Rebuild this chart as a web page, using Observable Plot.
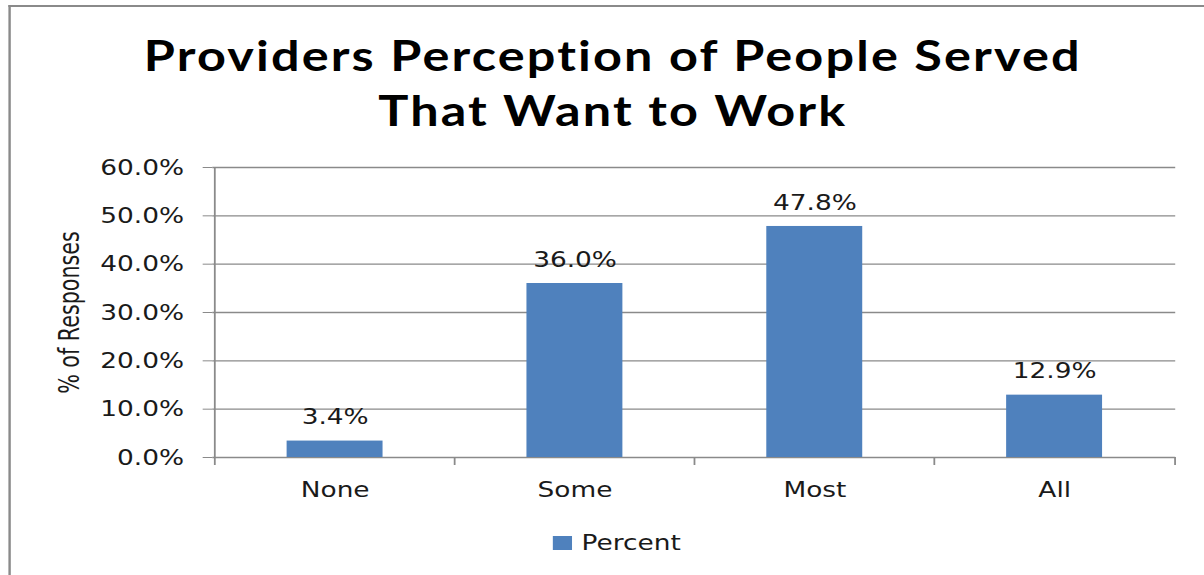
<!DOCTYPE html>
<html>
<head>
<meta charset="utf-8">
<script src="https://cdn.jsdelivr.net/npm/d3@7"></script>
<script src="https://cdn.jsdelivr.net/npm/@observablehq/plot@0.6"></script>
<style>
  html, body { margin: 0; padding: 0; background: #fff; overflow: hidden; }
  #stage { position: absolute; left: 0; top: 0; width: 1004px; height: 575px; transform-origin: 0 0; transform: scaleX(1.1992); }
  #border { position: absolute; left: 7px; top: 5px; width: 1100px; height: 700px; border-left: 2px solid #8a8a8a; border-top: 2px solid #8a8a8a; }
  #title { position: absolute; left: 9px; top: 28px; width: 1004px; text-align: center; font-family: Lato, "Open Sans", sans-serif; font-weight: 700; font-size: 42px; line-height: 55px; letter-spacing: 1.8px; color: #000; }
  #chart { position: absolute; left: 0; top: 140px; }
  #legend { position: absolute; left: 461px; top: 530px; display: flex; align-items: center; font-family: "DejaVu Sans", sans-serif; font-size: 22px; color: #1a1a1a; }
  #legend .sw { width: 16px; height: 14px; background: #4F81BD; margin-right: 8px; }
</style>
</head>
<body>
<div id="stage">
  <div id="border"></div>
  <div id="title">Providers Perception of People Served<br>That Want to Work</div>
  <div id="chart"></div>
  <div id="legend"><div class="sw"></div><span>Percent</span></div>
</div>
<script>
const categories = ["None", "Some", "Most", "All"];
const percents = [3.4, 36.0, 47.8, 12.9];
const yTicks = [0, 10, 20, 30, 40, 50, 60];
const yLabel = "% of Responses";
const seriesName = "Percent";

const data = categories.map((c, i) => ({category: c, value: percents[i]}));

const W = 1004, H = 380;
const mL = 177, mR = 24, mT = 27, mB = 63;
const step = (W - mL - mR) / categories.length;
const gray = "#8a8a8a";
const textColor = "#1a1a1a";

const chart = Plot.plot({
  width: W,
  height: H,
  marginLeft: mL,
  marginRight: mR,
  marginTop: mT,
  marginBottom: mB,
  style: {fontFamily: "DejaVu Sans, sans-serif", fontSize: "22px", color: textColor, background: "transparent"},
  x: {domain: categories, paddingInner: 0.6, paddingOuter: 0.3, label: null},
  y: {domain: [0, 60], label: null},
  marks: [
    Plot.ruleY(yTicks, {stroke: gray, strokeWidth: 1.3}),
    Plot.barY(data, {x: "category", y: "value", fill: "#4F81BD"}),
    Plot.ruleX(categories, {x: d => d, dx: -step / 2, y1: (d, i) => i === 0 ? 60 : 0, y2: -1.65, stroke: gray, strokeWidth: 1.5}),
    Plot.ruleX([categories[categories.length - 1]], {x: d => d, dx: step / 2, y1: 0, y2: -1.65, stroke: gray, strokeWidth: 1.5}),
    Plot.axisY({ticks: yTicks, tickFormat: d => d.toFixed(1) + "%", tickSize: 8, tickPadding: 16, stroke: gray, fill: textColor, label: null}),
    Plot.axisX({tickSize: 0, tickPadding: 24, fill: textColor, label: null}),
    Plot.text(data, {x: "category", y: "value", text: d => d.value.toFixed(1) + "%", dy: -24, fill: textColor}),
    Plot.text([yLabel], {frameAnchor: "left", textAnchor: "middle", text: d => d, rotate: -90, dx: -119, fill: textColor, fontFamily: "Liberation Sans Narrow, DejaVu Sans Condensed, sans-serif", fontSize: 23})
  ]
});
document.getElementById("chart").appendChild(chart);
document.querySelector("#legend span").textContent = seriesName;
</script>
</body>
</html>
